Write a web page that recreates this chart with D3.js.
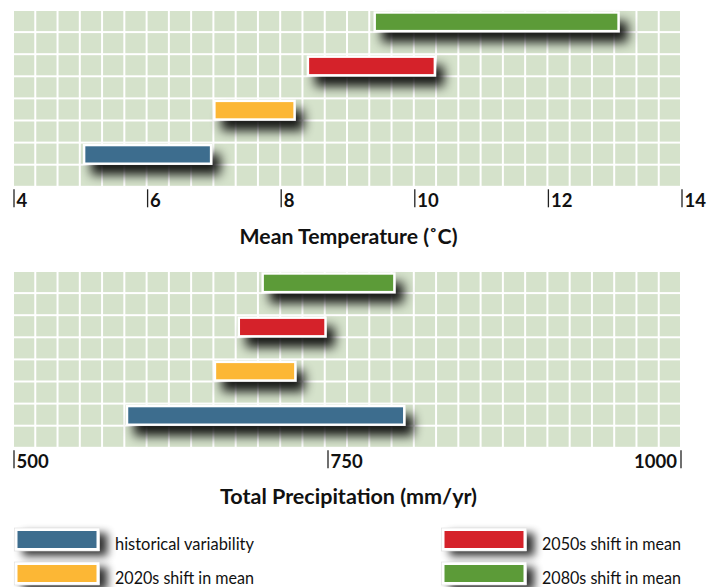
<!DOCTYPE html>
<html><head><meta charset="utf-8">
<script src="https://cdn.jsdelivr.net/npm/d3@7"></script>
<style>body{margin:0;background:#fff}svg{display:block}</style>
</head><body><svg id="c" width="725" height="587"></svg>
<script>
// ---- data ----
const series = ["historical variability", "2020s shift in mean", "2050s shift in mean", "2080s shift in mean"];
const colors = ["#3c6d8e", "#fcb735", "#d5232b", "#5b9b38"];
const tempLow = [5.05, 7.0, 8.4, 9.4];
const tempHigh = [6.95, 8.2, 10.3, 13.05];
const precipLow = [590, 660, 679, 698];
const precipHigh = [804, 724, 748, 797];
const tempTicks = [4, 6, 8, 10, 12, 14];
const precipTicks = [500, 750, 1000];
const tempTitle = "Mean Temperature (˚C)";
const precipTitle = "Total Precipitation (mm/yr)";

// ---- layout ----
const svg = d3.select("#c");
const left = 14, right = 682, nCols = 30, nRows = 8, rowH = 22.1;
const font = "Lato, 'Open Sans', sans-serif";

const defs = svg.append("defs");
function shadow(id, dx, dy, sd, op) {
  const f = defs.append("filter").attr("id", id)
    .attr("x", "-20%").attr("y", "-100%").attr("width", "160%").attr("height", "400%");
  f.append("feGaussianBlur").attr("in", "SourceAlpha").attr("stdDeviation", sd).attr("result", "b");
  f.append("feOffset").attr("in", "b").attr("dx", dx).attr("dy", dy).attr("result", "o");
  const ct = f.append("feComponentTransfer").attr("in", "o").attr("result", "s");
  ct.append("feFuncA").attr("type", "linear").attr("slope", op);
  const m = f.append("feMerge");
  m.append("feMergeNode").attr("in", "s");
  m.append("feMergeNode").attr("in", "SourceGraphic");
}
shadow("sh", 8, 10, 5.5, 0.9);
shadow("shl", 8, 5, 4, 0.8);

function panel(top, x, lows, highs, ticks, title, titleY, titleLen, lastEnd) {
  const g = svg.append("g");
  const bottom = top + nRows * rowH;
  const colW = (right - left) / nCols;
  // grid
  const cells = [];
  d3.range(nRows).forEach(r => d3.range(nCols).forEach(c => cells.push([r, c])));
  g.selectAll("rect.cell").data(cells).join("rect").attr("class", "cell")
    .attr("x", d => left + d[1] * colW).attr("y", d => top + d[0] * rowH)
    .attr("width", colW - 2).attr("height", rowH - 2)
    .attr("fill", "#d5e2cb");
  // bars
  const y = d3.scaleBand().domain(series.slice().reverse()).range([top, bottom]);
  const data = series.map((s, i) => ({ s, lo: lows[i], hi: highs[i], c: colors[i] }));
  g.selectAll("rect.bar").data(data).join("rect").attr("class", "bar")
    .attr("x", d => x(d.lo)).attr("width", d => x(d.hi) - x(d.lo))
    .attr("y", d => y(d.s) + 1.5).attr("height", rowH - 3.5)
    .attr("fill", d => d.c).attr("stroke", "#fff").attr("stroke-width", 2.4)
    .attr("filter", "url(#sh)");
  // ticks
  const t = g.selectAll("g.tick").data(ticks).join("g").attr("class", "tick")
    .attr("transform", d => `translate(${x(d)},0)`);
  t.append("line").attr("y1", bottom + 1.5).attr("y2", bottom + 19.5)
    .attr("stroke", "#222").attr("stroke-width", 1.3);
  t.append("text")
    .attr("x", (d, i) => (lastEnd && i === ticks.length - 1) ? -4 : 2.5)
    .attr("y", bottom + 19.5)
    .attr("text-anchor", (d, i) => (lastEnd && i === ticks.length - 1) ? "end" : "start")
    .attr("font-family", font).attr("font-weight", 700).attr("font-size", 18.5)
    .attr("fill", "#111").text(d => d);
  // title
  g.append("text").attr("x", 348.5).attr("y", titleY).attr("text-anchor", "middle")
    .attr("font-family", font).attr("font-weight", 700).attr("font-size", 21)
    .attr("textLength", titleLen).attr("lengthAdjust", "spacingAndGlyphs")
    .attr("fill", "#111").text(title);
}

const xTemp = d3.scaleLinear().domain([4, 14]).range([left, right]);
const xPrecip = d3.scaleLinear().domain([500, 750, 1000]).range([left, 328, 681]);

panel(11, xTemp, tempLow, tempHigh, tempTicks, tempTitle, 243.5, 218, false);
panel(272, xPrecip, precipLow, precipHigh, precipTicks, precipTitle, 503.5, 257, true);

// legend
const legPos = [[16, 529.5], [16, 563.5], [443, 529.5], [443, 563.5]];
const leg = svg.append("g").selectAll("g").data(series).join("g")
  .attr("transform", (d, i) => `translate(${legPos[i][0]},${legPos[i][1]})`);
leg.append("rect").attr("width", 82).attr("height", 20)
  .attr("fill", (d, i) => colors[i]).attr("stroke", "#fff").attr("stroke-width", 3)
  .attr("filter", "url(#shl)");
leg.append("rect").attr("x", -1.5).attr("y", -1.5).attr("width", 85).attr("height", 23)
  .attr("fill", "none").attr("stroke", "#ddd").attr("stroke-width", 0.6);
leg.append("text").attr("x", 99).attr("y", 20)
  .attr("font-family", font).attr("font-size", 17).attr("fill", "#111")
  .attr("textLength", 139).attr("lengthAdjust", "spacingAndGlyphs")
  .text(d => d);
</script></body></html>
